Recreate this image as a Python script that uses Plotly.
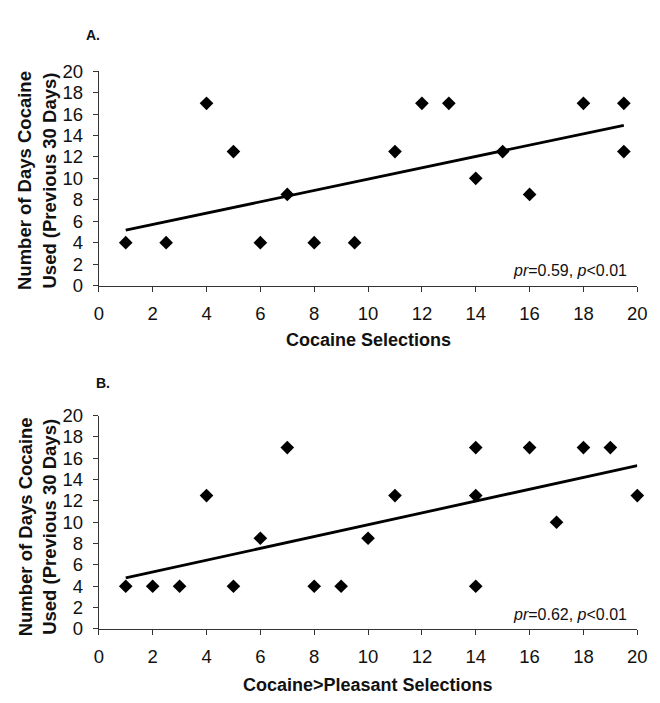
import plotly.graph_objects as go

# Panel A data
a_x = [1, 2.5, 4, 5, 6, 7, 8, 9.5, 11, 12, 13, 14, 15, 16, 18, 19.5, 19.5]
a_y = [4, 4, 17, 12.5, 4, 8.5, 4, 4, 12.5, 17, 17, 10, 12.5, 8.5, 17, 17, 12.5]
a_fit_x = [1, 19.5]
a_fit_y = [5.17, 14.95]

# Panel B data
b_x = [1, 2, 3, 4, 5, 6, 7, 8, 9, 10, 11, 14, 14, 14, 16, 17, 18, 19, 20]
b_y = [4, 4, 4, 12.5, 4, 8.5, 17, 4, 4, 8.5, 12.5, 17, 12.5, 4, 17, 10, 17, 17, 12.5]
b_fit_x = [1, 20]
b_fit_y = [4.78, 15.31]

ticks = [0, 2, 4, 6, 8, 10, 12, 14, 16, 18, 20]
tick_text = [str(t) for t in ticks]

FONT = "Liberation Sans, Arial, sans-serif"
TICKFONT = "Liberation Sans Narrow, Arial Narrow, Liberation Sans, sans-serif"
INK = "#111111"

fig = go.Figure()

def add_panel(xs, ys, fx, fy, xa, ya):
    fig.add_trace(go.Scatter(x=fx, y=fy, mode="lines",
                             line=dict(color="black", width=2.8),
                             xaxis=xa, yaxis=ya, showlegend=False, hoverinfo="skip"))
    fig.add_trace(go.Scatter(x=xs, y=ys, mode="markers",
                             marker=dict(symbol="diamond", size=10.5, color="black",
                                         line=dict(width=0)),
                             cliponaxis=False,
                             xaxis=xa, yaxis=ya, showlegend=False))

add_panel(a_x, a_y, a_fit_x, a_fit_y, "x", "y")
add_panel(b_x, b_y, b_fit_x, b_fit_y, "x2", "y2")

W, H = 660, 703
x0, x1 = 96 / W, 647 / W

axis_common = dict(range=[0, 20], tickvals=ticks, ticktext=tick_text,
                   showline=True, linecolor="#333333", linewidth=1.3,
                   ticks="outside", ticklen=5, tickwidth=1.3, tickcolor="#333333",
                   showgrid=False, zeroline=False, fixedrange=True,
                   tickfont=dict(family=TICKFONT, size=18.5, color=INK),
                   ticklabelstandoff=6)

fig.update_layout(
    width=W, height=H,
    margin=dict(l=0, r=0, t=0, b=0),
    paper_bgcolor="white", plot_bgcolor="white",
    xaxis=dict(domain=[x0, x1], anchor="y", **axis_common),
    yaxis=dict(domain=[1 - 283 / H, 1 - 62 / H], anchor="x", **axis_common),
    xaxis2=dict(domain=[x0, x1], anchor="y2", **axis_common),
    yaxis2=dict(domain=[1 - 637 / H, 1 - 417 / H], anchor="x2", **axis_common),
)

def px_ann(text, x, y, size, bold=False, angle=0, xanchor="center"):
    t = f"<b>{text}</b>" if bold else text
    fig.add_annotation(text=t, x=x / W, y=1 - y / H, xref="paper", yref="paper",
                       showarrow=False, textangle=angle, xanchor=xanchor, yanchor="middle",
                       font=dict(family=FONT, size=size, color=INK))

# panel labels
px_ann("A.", 90, 25, 14, bold=True)
px_ann("B.", 100, 383, 14, bold=True)

# axis titles
px_ann("Cocaine Selections", 371.5, 339, 18, bold=True)
px_ann("Cocaine&gt;Pleasant Selections", 371.5, 695, 18, bold=True)
px_ann("Number of Days Cocaine<br>Used (Previous 30 Days)", 33, 175, 18.5, bold=True, angle=-90)
px_ann("Number of Days Cocaine<br>Used (Previous 30 Days)", 33, 532, 18.5, bold=True, angle=-90)

# statistics
px_ann("<i>pr</i>=0.59, <i>p</i>&lt;0.01", 638, 268, 16, xanchor="right")
px_ann("<i>pr</i>=0.62, <i>p</i>&lt;0.01", 638, 622, 16, xanchor="right")

fig.write_html("out.html", config={"displayModeBar": False},
               post_script="document.body.style.margin='0';document.body.style.overflow='hidden';")
